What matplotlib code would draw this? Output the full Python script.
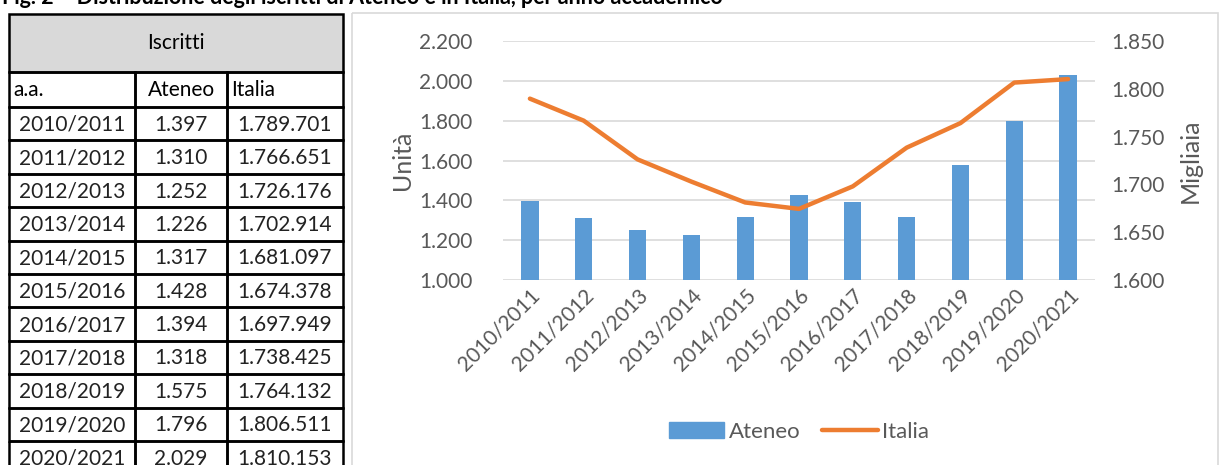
import matplotlib.pyplot as plt
from matplotlib.patches import Rectangle, Patch
from matplotlib.lines import Line2D
from matplotlib.ticker import FuncFormatter

# ---------------- data ----------------
anni = ['2010/2011', '2011/2012', '2012/2013', '2013/2014', '2014/2015', '2015/2016',
        '2016/2017', '2017/2018', '2018/2019', '2019/2020', '2020/2021']
ateneo = [1397, 1310, 1252, 1226, 1317, 1428, 1394, 1318, 1575, 1796, 2029]
italia = [1789701, 1766651, 1726176, 1702914, 1681097, 1674378, 1697949, 1738425,
          1764132, 1806511, 1810153]

BLUE = '#5B9BD5'
ORANGE = '#ED7D31'
GREY = '#595959'
W, H = 1222, 465

plt.rcParams['font.family'] = ['Lato', 'DejaVu Sans']


def it_num(v, dec=0):
    s = f'{v:,.{dec}f}'
    return s.replace(',', '#').replace('.', ',').replace('#', '.')


fig = plt.figure(figsize=(W / 100, H / 100), dpi=100)

# ---------------- background / title in pixel coords ----------------
bg = fig.add_axes([0, 0, 1, 1])
bg.set_xlim(0, W)
bg.set_ylim(H, 0)
bg.axis('off')
bg.text(2, 4, 'Fig. 2 \u2013 Distribuzione degli iscritti di Ateneo e in Italia, per anno accademico',
        fontsize=15.5, fontweight='bold', va='baseline', ha='left', color='black')

# chart frame
bg.add_patch(Rectangle((352, 13), 866, 470, fill=False, ec='#d9d9d9', lw=1.2))

# ---------------- table ----------------
x0, x1, x2, x3 = 9, 135, 227, 343
top, hdr1, hdr2 = 14, 72, 107
rh = 33.4
fs = 15
bg.add_patch(Rectangle((x0, top), x3 - x0, hdr1 - top, fc='#d9d9d9', ec='black', lw=1.8))
bg.text((x0 + x3) / 2, (top + hdr1) / 2, 'Iscritti', ha='center', va='center', fontsize=fs)
cols = [(x0, x1), (x1, x2), (x2, x3)]
for (a, b), lab, ha in zip(cols, ['a.a.', 'Ateneo', 'Italia'], ['left', 'center', 'left']):
    bg.add_patch(Rectangle((a, hdr1), b - a, hdr2 - hdr1, fill=False, ec='black', lw=1.8))
    tx = a + 4 if ha == 'left' else (a + b) / 2
    bg.text(tx, (hdr1 + hdr2) / 2 + 1, lab, ha=ha, va='center', fontsize=fs)
for i, (aa, at, it) in enumerate(zip(anni, ateneo, italia)):
    y = hdr2 + i * rh
    for (a, b) in cols:
        bg.add_patch(Rectangle((a, y), b - a, rh, fill=False, ec='black', lw=1.8))
    cy = y + rh / 2 + 1
    bg.text((x0 + x1) / 2, cy, aa, ha='center', va='center', fontsize=fs, color='#222222')
    bg.text((x1 + x2) / 2, cy, it_num(at), ha='center', va='center', fontsize=fs, color='#222222')
    bg.text((x2 + x3) / 2, cy, it_num(it), ha='center', va='center', fontsize=fs, color='#222222')

# ---------------- chart ----------------
L, R, T, B = 503, 1095, 41, 280
ax = fig.add_axes([L / W, 1 - B / H, (R - L) / W, (B - T) / H])
xs = list(range(len(anni)))
ax.bar(xs, ateneo, width=0.32, color=BLUE, zorder=2)
ax.set_ylim(1000, 2200)
ax.set_yticks(range(1000, 2201, 200))
ax.set_xlim(-0.5, len(anni) - 0.5)
ax.grid(axis='y', color='#d9d9d9', lw=1.2, zorder=0)
ax.set_axisbelow(True)
for s in ax.spines.values():
    s.set_visible(False)
ax.tick_params(length=0, labelsize=15, labelcolor=GREY, pad=22)
ax.tick_params(axis='x', pad=4)
ax.yaxis.set_major_formatter(FuncFormatter(lambda v, p: it_num(v)))
ax.set_xticks(xs)
ax.set_xticklabels(anni, rotation=45, ha='right', rotation_mode='anchor')
ax.set_ylabel('Unità', fontsize=18, color=GREY, labelpad=4)

ax2 = ax.twinx()
ax2.plot(xs, [v / 1000 for v in italia], color=ORANGE, lw=3.2, solid_capstyle='round', zorder=3)
ax2.set_ylim(1600, 1850)
ax2.set_yticks(range(1600, 1851, 50))
for s in ax2.spines.values():
    s.set_visible(False)
ax2.tick_params(length=0, labelsize=15, labelcolor=GREY, pad=12)
ax2.yaxis.set_major_formatter(FuncFormatter(lambda v, p: it_num(v)))
ax2.set_ylabel('Migliaia', fontsize=18, color=GREY, labelpad=10)

handles = [Patch(color=BLUE, label='Ateneo'),
           Line2D([0], [0], color=ORANGE, lw=3.2, solid_capstyle='round', label='Italia')]
fig.legend(handles=handles, loc='center', bbox_to_anchor=((L + R) / 2 / W, 1 - 432 / H),
           ncol=2, frameon=False, fontsize=16, labelcolor=GREY, handlelength=2.5,
           handletextpad=0.2, columnspacing=1.0)

fig.savefig('out.png', dpi=100)
